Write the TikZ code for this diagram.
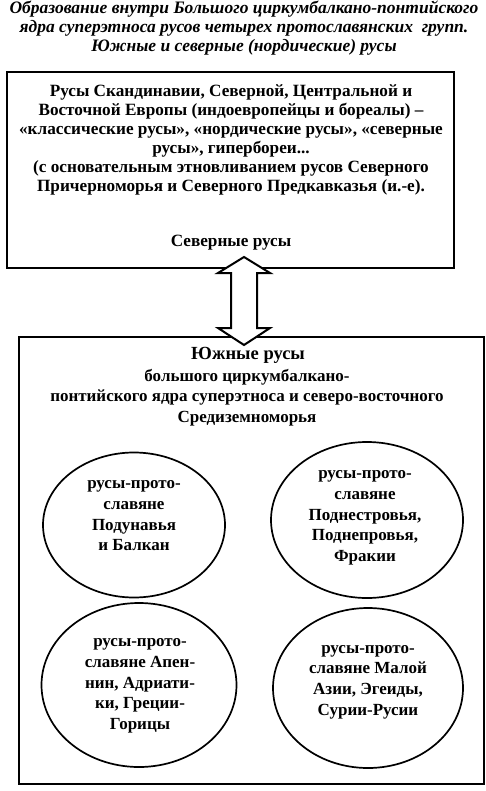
\documentclass[tikz,border=0pt]{standalone}
\usepackage{fontspec}
\setmainfont{Liberation Serif}
\usetikzlibrary{shapes.geometric}
\begin{document}
\begin{tikzpicture}[x=1pt,y=-1pt,
  frame/.style={draw, line width=2.2pt, inner sep=0pt, anchor=north west},
  oval/.style={draw, ellipse, line width=1.7pt, inner sep=0pt},
  ttl/.style={font=\fontsize{17.5}{19}\selectfont\bfseries\itshape, align=center, inner sep=0pt},
  txt/.style={font=\fontsize{17.2}{19}\selectfont\bfseries, align=center, inner sep=0pt},
  otxt/.style={font=\fontsize{17}{20.7}\selectfont\bfseries, align=center, inner sep=0pt},
  stxt/.style={font=\fontsize{17}{20.5}\selectfont\bfseries, align=center, inner sep=0pt},
  big/.style={font=\fontsize{18.5}{20}\selectfont\bfseries, align=center, inner sep=0pt},
  dblarrow/.style={draw, line width=2pt, fill=white, line join=miter}]
\useasboundingbox (0,0) rectangle (485,791);
% title
\node[ttl] (title) at (244,28) {Образование внутри Большого циркумбалкано-понтийского\\ядра суперэтноса русов четырех протославянских\ \ групп.\\Южные и северные (нордические) русы};
% boxes
\node[frame, minimum width=447, minimum height=196] (north) at (6,71) {};
\node[frame, minimum width=465, minimum height=447] (south) at (18,336) {};
% north text
\node[txt] (ntext) at (231,140) {Русы Скандинавии, Северной, Центральной и\\Восточной Европы (индоевропейцы и бореалы) –\\«классические русы», «нордические русы», «северные\\русы», гипербореи...\\(с основательным этновливанием русов Северного\\Причерноморья и Северного Предкавказья (и.-е).};
\node[txt] (nname) at (231,243) {Северные русы};
% south heading
\node[big] (sname) at (248,355) {Южные русы};
\node[stxt] (stext) at (247,397.5) {большого циркумбалкано-\\понтийского ядра суперэтноса и северо-восточного\\Средиземноморья};
% ellipses
\node[oval, minimum width=182, minimum height=145] (e1) at (134,525) {};
\node[oval, minimum width=192, minimum height=156] (e2) at (367,520) {};
\node[oval, minimum width=195, minimum height=164] (e3) at (139,685) {};
\node[oval, minimum width=190, minimum height=160] (e4) at (368,688) {};
\node[otxt] (t1) at (134,516) {русы-прото-\\славяне\\Подунавья\\и Балкан};
\node[otxt] (t2) at (365,518) {русы-прото-\\славяне\\Поднестровья,\\Поднепровья,\\Фракии};
\node[otxt] (t3) at (140,686) {русы-прото-\\славяне Апен-\\нин, Адриати-\\ки, Греции-\\Горицы};
\node[otxt] (t4) at (368,682) {русы-прото-\\славяне Малой\\Азии, Эгеиды,\\Сурии-Русии};
% double arrow between the boxes
\coordinate (a) at (244,257);
\coordinate (b) at (244,345);
\draw[dblarrow] (a) -- ++(26,16) -- ++(-13,0) -- ++(0,55) -- ++(13,0) -- (b)
  -- ++(-26,-17) -- ++(13,0) -- ++(0,-55) -- ++(-13,0) -- cycle;
\end{tikzpicture}
\end{document}
